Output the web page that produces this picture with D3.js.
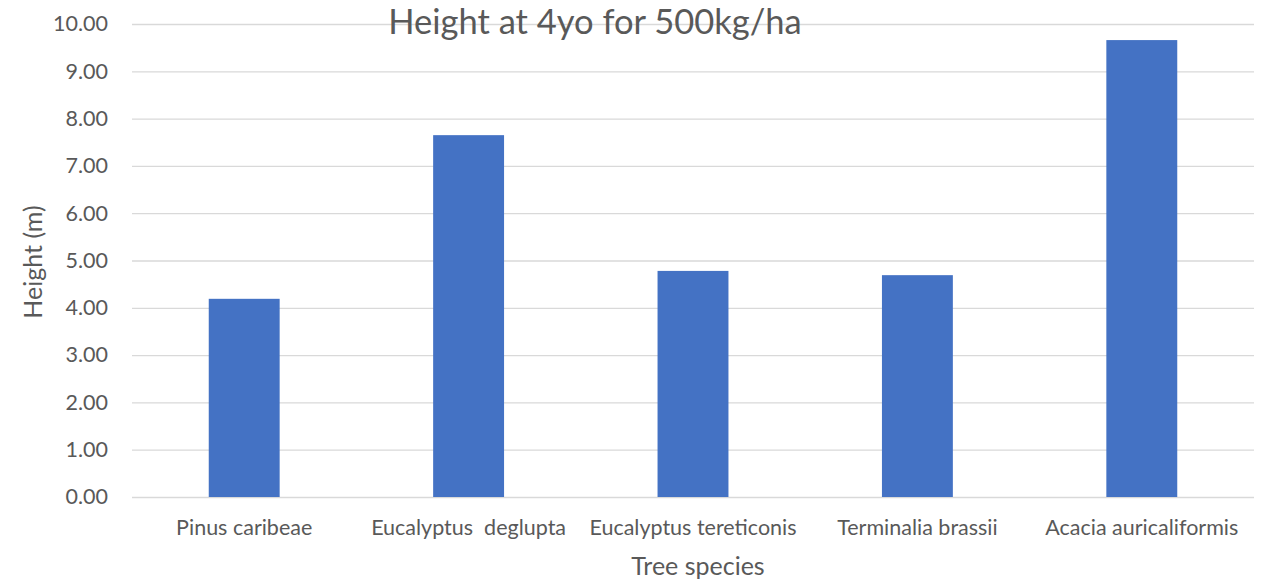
<!DOCTYPE html>
<html>
<head>
<meta charset="utf-8">
<script src="https://cdn.jsdelivr.net/npm/d3@7"></script>
<style>
  body { margin: 0; background: #fff; }
  svg { display: block; font-family: Lato, "Open Sans", sans-serif; }
</style>
</head>
<body>
<div id="chart"></div>
<script>
const species = ['Pinus caribeae', 'Eucalyptus  deglupta', 'Eucalyptus tereticonis', 'Terminalia brassii', 'Acacia auricaliformis'];
const heights = [4.19, 7.65, 4.78, 4.69, 9.66];
const yTicks = [0, 1, 2, 3, 4, 5, 6, 7, 8, 9, 10];

const w = 1274;
const h = 581;
const margin = {top: 24, right: 20, bottom: 84, left: 132};
const width = w - margin.left - margin.right;
const height = h - margin.top - margin.bottom;
const font = 'Lato, "Open Sans", sans-serif';

const svg = d3.select('#chart').append('svg')
  .attr('width', w)
  .attr('height', h);

const g = svg.append('g').attr('transform', `translate(${margin.left}, ${margin.top})`);

const x = d3.scaleBand()
  .domain(species)
  .range([0, width])
  .paddingInner(0.684)
  .paddingOuter(0.342);

const y = d3.scaleLinear()
  .domain([0, 10])
  .range([height, 0]);

// gridlines
g.append('g')
  .attr('class', 'grid')
  .selectAll('line')
  .data(yTicks)
  .enter().append('line')
    .attr('x1', 0)
    .attr('x2', width)
    .attr('y1', d => y(d) + 0.5)
    .attr('y2', d => y(d) + 0.5)
    .attr('stroke', '#d9d9d9')
    .attr('stroke-width', 1.3);

// y axis labels
const yAxis = g.append('g')
  .call(d3.axisLeft(y).tickValues(yTicks).tickFormat(d3.format('.2f')).tickSize(0).tickPadding(24));
yAxis.attr('font-family', font).attr('font-size', 21.5);
yAxis.select('.domain').remove();
yAxis.selectAll('text')
  .attr('fill', '#595959');

// bars
g.selectAll('.bar')
  .data(species)
  .enter().append('rect')
    .attr('class', 'bar')
    .attr('x', d => x(d))
    .attr('y', (d, i) => y(heights[i]))
    .attr('width', x.bandwidth())
    .attr('height', (d, i) => height - y(heights[i]))
    .attr('fill', '#4472c4');

// x axis labels
const xAxis = g.append('g')
  .attr('transform', `translate(0, ${height})`)
  .call(d3.axisBottom(x).tickSize(0).tickPadding(23));
xAxis.attr('font-family', font).attr('font-size', 21.5);
xAxis.select('.domain').remove();
xAxis.selectAll('text')
  .attr('fill', '#595959')
  .style('white-space', 'pre');

// title
svg.append('text')
  .attr('x', 595)
  .attr('y', 34)
  .attr('text-anchor', 'middle')
  .attr('fill', '#595959')
  .attr('font-size', 34.5)
  .text('Height at 4yo for 500kg/ha');

// axis titles
svg.append('text')
  .attr('x', 698)
  .attr('y', 575)
  .attr('text-anchor', 'middle')
  .attr('fill', '#595959')
  .attr('font-size', 25)
  .text('Tree species');

svg.append('text')
  .attr('transform', 'translate(42, 262) rotate(-90)')
  .attr('text-anchor', 'middle')
  .attr('fill', '#595959')
  .attr('font-size', 25)
  .text('Height (m)');
</script>
</body>
</html>
